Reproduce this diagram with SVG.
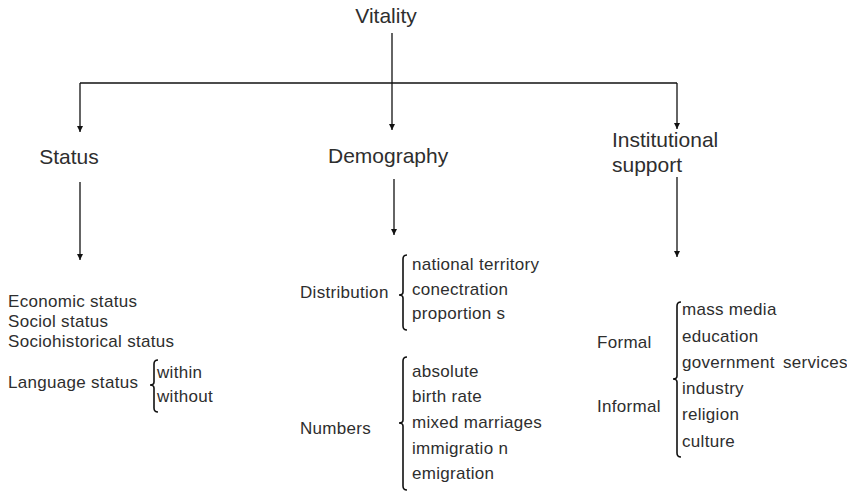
<svg xmlns="http://www.w3.org/2000/svg" width="847" height="492" viewBox="0 0 847 492">
<style>
  text { font-family: "Liberation Sans", Arial, sans-serif; fill: #2e2e2e; }
  .h { font-size: 21px; }
  .t { font-size: 17px; letter-spacing: 0.3px; }
  .ln { stroke: #111; stroke-width: 1.3; fill: none; }
  .br { stroke: #111; stroke-width: 1.6; fill: none; }
</style>
<defs>
  <marker id="ah" viewBox="0 0 8 8" refX="8" refY="4" markerWidth="7" markerHeight="6" markerUnits="userSpaceOnUse" orient="auto">
    <path d="M0,0 L8,4 L0,8 z" fill="#111"/>
  </marker>
</defs>
<rect width="847" height="492" fill="#fff"/>
<g id="connectors">
  <path class="ln" d="M392,33 V130" marker-end="url(#ah)"/>
  <path class="ln" d="M80,83 H677"/>
  <path class="ln" d="M80,83 V132" marker-end="url(#ah)"/>
  <path class="ln" d="M677,83 V129" marker-end="url(#ah)"/>
  <path class="ln" d="M80,182 V260" marker-end="url(#ah)"/>
  <path class="ln" d="M394,179 V235" marker-end="url(#ah)"/>
  <path class="ln" d="M677,177 V257" marker-end="url(#ah)"/>
</g>
<g id="vitality"><text class="h" x="386" y="23" text-anchor="middle">Vitality</text></g>
<g id="status"><text class="h" x="69" y="164" text-anchor="middle">Status</text></g>
<g id="demography"><text class="h" x="328" y="163">Demography</text></g>
<g id="institutional">
  <text class="h" x="612" y="147">Institutional</text>
  <text class="h" x="612" y="172">support</text>
</g>
<g id="status-items">
  <text class="t" x="8" y="307">Economic status</text>
  <text class="t" x="8" y="327">Sociol status</text>
  <text class="t" x="8" y="347">Sociohistorical status</text>
  <text class="t" x="8" y="388">Language status</text>
  <path class="br" d="M158,360 Q154,360 154,364 L154,382 Q154,385 150,385 Q154,385 154,388 L154,408 Q154,412 158,412"/>
  <text class="t" x="157" y="378">within</text>
  <text class="t" x="157" y="402">without</text>
</g>
<g id="distribution">
  <text class="t" x="300" y="298">Distribution</text>
  <path class="br" d="M407,255 Q403,255 403,259 L403,292 Q403,295 399,295 Q403,295 403,298 L403,326 Q403,330 407,330"/>
  <text class="t" x="412" y="270">national territory</text>
  <text class="t" x="412" y="295">conectration</text>
  <text class="t" x="412" y="319">proportion s</text>
</g>
<g id="numbers">
  <text class="t" x="300" y="434">Numbers</text>
  <path class="br" d="M407,357 Q403,357 403,361 L403,420 Q403,423 399,423 Q403,423 403,426 L403,486 Q403,490 407,490"/>
  <text class="t" x="412" y="377">absolute</text>
  <text class="t" x="412" y="402">birth rate</text>
  <text class="t" x="412" y="428">mixed marriages</text>
  <text class="t" x="412" y="454">immigratio n</text>
  <text class="t" x="412" y="479">emigration</text>
</g>
<g id="support-items">
  <text class="t" x="597" y="348">Formal</text>
  <text class="t" x="597" y="412">Informal</text>
  <path class="br" d="M681,302 Q677,302 677,306 L677,376 Q677,379 673,379 Q677,379 677,382 L677,453 Q677,457 681,457"/>
  <text class="t" x="682" y="315">mass media</text>
  <text class="t" x="682" y="342">education</text>
  <text class="t" x="682" y="368">government</text>
  <text class="t" x="783" y="368">services</text>
  <text class="t" x="682" y="394">industry</text>
  <text class="t" x="682" y="420">religion</text>
  <text class="t" x="682" y="447">culture</text>
</g>
</svg>
